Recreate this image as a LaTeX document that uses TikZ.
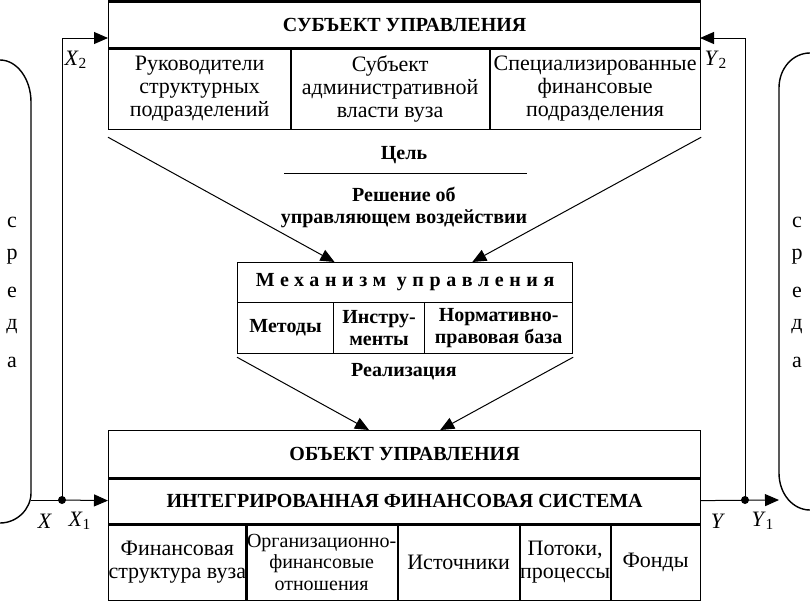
\documentclass[tikz,border=0pt]{standalone}
\usepackage{fontspec}
\setmainfont{Liberation Serif}
\usetikzlibrary{arrows.meta,calc}
\tikzset{
  txt/.style={font=\fontsize{11}{11.5}\selectfont},
  boldtxt/.style={font=\fontsize{10}{11}\selectfont\bfseries},
  cell/.style={draw, line width=0.6pt, anchor=north west, inner sep=0pt, align=center},
  arr/.style={-{Triangle[length=7pt,width=6pt]}, line width=0.5pt},
  divider/.style={line width=1.5pt},
  coldiv/.style={line width=1pt}
}
\begin{document}
\begin{tikzpicture}[x=0.5pt,y=-0.5pt]
\useasboundingbox (0,0) rectangle (810,601);

% subject of management
\node[cell,boldtxt,minimum width=296pt,minimum height=23pt] (subj) at (108,1) {СУБЪЕКТ УПРАВЛЕНИЯ};
\node[cell,txt,minimum width=91pt,minimum height=41pt] (subj1) at (108,47) {Руководители\\структурных\\подразделений};
\node[cell,txt,minimum width=99.5pt,minimum height=41pt] (subj2) at (290,47) {Субъект\\административной\\власти вуза};
\node[cell,txt,minimum width=105.5pt,minimum height=41pt] (subj3) at (489,47) {Специализированные\\финансовые\\подразделения};
\draw[divider] (subj.north west) -- (subj.north east);
\draw[divider] (subj.south west) -- (subj.south east);
\draw[coldiv] (subj1.north east) -- (subj1.south east);
\draw[coldiv] (subj2.north east) -- (subj2.south east);

% goal and decision
\node[boldtxt] (goal) at (404,155) {Цель};
\coordinate (rulel) at (284,173);
\coordinate (ruler) at (527,173);
\draw (rulel) -- (ruler);
\node[boldtxt,align=center] (decision) at (404,207) {Решение об\\управляющем воздействии};

% mechanism
\node[cell,boldtxt,minimum width=167.5pt,minimum height=20pt] (mech) at (237,262) {\addfontfeature{LetterSpace=28}Механизм управления};
\node[cell,boldtxt,minimum width=48pt,minimum height=25.5pt] (mech1) at (237,302) {Методы};
\node[cell,boldtxt,minimum width=45.5pt,minimum height=25.5pt] (mech2) at (333,302) {Инстру-\\менты};
\node[cell,boldtxt,minimum width=74pt,minimum height=25.5pt] (mech3) at (424,302) {Нормативно-\\правовая база};
\node[boldtxt] (impl) at (404,372) {Реализация};

% object of management
\node[cell,boldtxt,minimum width=296pt,minimum height=23.5pt] (obj) at (108,430) {ОБЪЕКТ УПРАВЛЕНИЯ};
\node[cell,boldtxt,minimum width=296pt,minimum height=23pt] (objsys) at (108,477) {ИНТЕГРИРОВАННАЯ ФИНАНСОВАЯ СИСТЕМА};
\node[cell,txt,minimum width=68.5pt,minimum height=38.5pt] (obj1) at (108,523) {Финансовая\\структура вуза};
\node[cell,txt,font=\fontsize{10}{10.75}\selectfont,minimum width=76pt,minimum height=38.5pt] (obj2) at (245,523) {Организационно-\\финансовые\\отношения};
\node[cell,txt,minimum width=61pt,minimum height=38.5pt] (obj3) at (397,523) {Источники};
\node[cell,txt,minimum width=45.5pt,minimum height=38.5pt] (obj4) at (519,523) {Потоки,\\процессы};
\node[cell,txt,minimum width=45pt,minimum height=38.5pt] (obj5) at (610,523) {Фонды};
\draw[divider] (obj.south west) -- (obj.south east);
\draw[divider] (objsys.south west) -- (objsys.south east);
\draw[coldiv] (obj1.north east) -- (obj1.south east);
\draw[coldiv] (obj2.north east) -- (obj2.south east);
\draw[coldiv] (obj3.north east) -- (obj3.south east);
\draw[coldiv] (obj4.north east) -- (obj4.south east);

% influence arrows
\draw[arr] ($(subj1.south west)+(0,7)$) -- ($(mech.north west)!0.29!(mech.north east)$);
\draw[arr] ($(subj3.south east)+(0,7)$) -- ($(mech.north west)!0.70!(mech.north east)$);
\draw[arr] ($(mech1.south west)+(0,3)$) -- ($(obj.north west)!0.44!(obj.north east)$);
\draw[arr] ($(mech3.south east)+(0,3)$) -- ($(obj.north west)!0.56!(obj.north east)$);

% environment
\draw[line width=0.7pt] (0,60) .. controls (17,60) and (31,79) .. (31,102) -- (31,493) .. controls (31,509) and (17,523) .. (0,523);
\draw[line width=0.7pt] (810,53) .. controls (793,53) and (779,68) .. (779,88) -- (779,473) .. controls (779,494) and (793,510) .. (810,510);
\foreach \ch [count=\i] in {с,р,е,д,а} {
  \node[txt] (envl\i) at (12,187+35*\i) {\ch};
  \node[txt] (envr\i) at (797,187+35*\i) {\ch};
}

% inputs
\coordinate (xstart) at (31,500);
\coordinate (xdot) at (62,500);
\coordinate (x2in) at (108,38);
\draw (xstart) -- (xdot);
\draw[arr] (xdot) -- (objsys.west);
\draw[arr] (xdot) |- (x2in);
\fill (xdot) circle (2pt);
\node[txt] (xlab) at (45,521) {\textit{X}};
\node[txt] (x1lab) at (80,521) {\textit{X}\textsubscript{1}};
\node[txt] (x2lab) at (76,60) {\textit{X}\textsubscript{2}};

% outputs
\coordinate (ydot) at (745,500);
\coordinate (yend) at (779,500);
\coordinate (y2in) at (700,38);
\draw[arr] (objsys.east) -- (yend);
\draw[arr] (ydot) |- (y2in);
\fill (ydot) circle (2pt);
\node[txt] (ylab) at (718,521) {\textit{Y}};
\node[txt] (y1lab) at (763,521) {\textit{Y}\textsubscript{1}};
\node[txt] (y2lab) at (716,60) {\textit{Y}\textsubscript{2}};
\end{tikzpicture}
\end{document}
